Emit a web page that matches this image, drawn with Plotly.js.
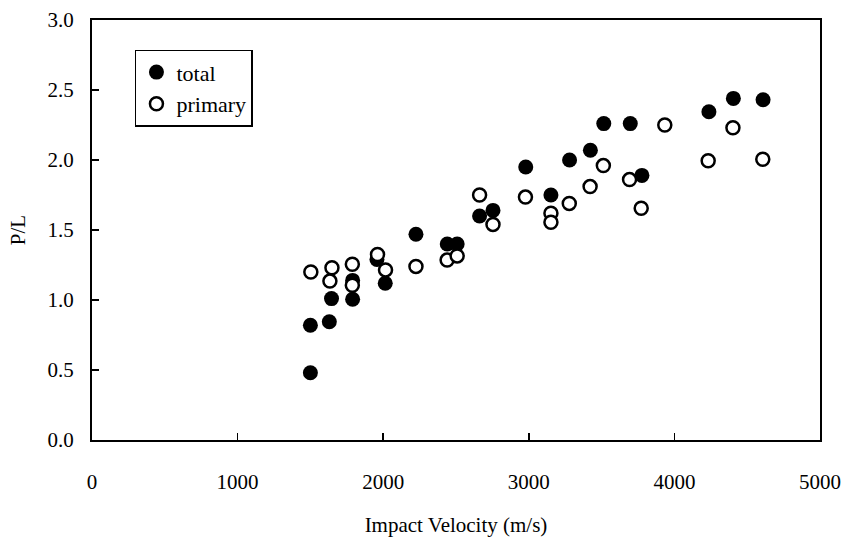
<!DOCTYPE html>
<html>
<head>
<meta charset="utf-8">
<script src="https://cdn.plot.ly/plotly-3.0.1.min.js"></script>
<style>
  html, body { margin: 0; padding: 0; background: #fff; }
  #chart { width: 845px; height: 538px; }
</style>
</head>
<body>
<div id="chart"></div>
<script>
// Impact velocity (m/s) and penetration ratio P/L
const totalVelocity = [1500, 1500, 1630, 1645, 1790, 1790, 1957, 2014, 2225, 2440, 2508, 2662, 2754, 2979, 3152, 3280, 3423, 3515, 3697, 3777, 4237, 4405, 4609];
const totalPL       = [0.48, 0.82, 0.845, 1.01, 1.005, 1.14, 1.29, 1.12, 1.47, 1.40, 1.40, 1.60, 1.64, 1.95, 1.75, 2.00, 2.07, 2.26, 2.26, 1.89, 2.345, 2.44, 2.43];

const primaryVelocity = [1503, 1634, 1648, 1788, 1788, 1961, 2016, 2225, 2439, 2508, 2662, 2754, 2977, 3152, 3152, 3278, 3421, 3512, 3692, 3772, 3934, 4232, 4402, 4607];
const primaryPL       = [1.20, 1.135, 1.23, 1.255, 1.105, 1.325, 1.215, 1.24, 1.285, 1.315, 1.75, 1.54, 1.735, 1.62, 1.555, 1.69, 1.81, 1.96, 1.86, 1.655, 2.25, 1.995, 2.23, 2.005];

const seriesNames = ['total', 'primary'];
const xTickVals = [0, 1000, 2000, 3000, 4000, 5000];
const yTickVals = [0, 0.5, 1.0, 1.5, 2.0, 2.5, 3.0];

const FONT = 'Liberation Serif, Times New Roman, serif';

const traces = [
  {
    x: totalVelocity, y: totalPL, name: seriesNames[0],
    type: 'scatter', mode: 'markers',
    marker: { symbol: 'circle', size: 15, color: '#000', line: { width: 0 } }
  },
  {
    x: primaryVelocity, y: primaryPL, name: seriesNames[1],
    type: 'scatter', mode: 'markers',
    marker: { symbol: 'circle', size: 13, color: '#fff', line: { width: 2.5, color: '#000' } }
  }
];

const layout = {
  width: 845, height: 538,
  margin: { l: 92, r: 25, t: 20, b: 98 },
  paper_bgcolor: '#fff', plot_bgcolor: '#fff',
  font: { family: FONT, color: '#000', size: 21 },
  showlegend: true,
  legend: {
    x: 0.059, y: 0.929, xanchor: 'left', yanchor: 'top',
    bgcolor: '#fff', bordercolor: '#000', borderwidth: 1.5,
    font: { family: FONT, size: 22, color: '#000' },
    itemwidth: 30, tracegroupgap: 0
  },
  xaxis: {
    range: [0, 5000], tickvals: xTickVals, ticktext: xTickVals.map(String),
    ticks: 'inside', ticklen: 7, tickwidth: 1.5, tickcolor: '#000',
    showline: true, linecolor: '#000', linewidth: 2, mirror: true,
    showgrid: false, zeroline: false,
    tickfont: { family: FONT, size: 21 },
    ticklabelstandoff: 22,
    title: { text: 'Impact Velocity (m/s)', font: { family: FONT, size: 21 }, standoff: 24 }
  },
  yaxis: {
    range: [0, 3], tickvals: yTickVals, tickformat: '.1f',
    ticks: 'inside', ticklen: 7, tickwidth: 1.5, tickcolor: '#000',
    showline: true, linecolor: '#000', linewidth: 2, mirror: true,
    showgrid: false, zeroline: false,
    tickfont: { family: FONT, size: 21 },
    ticklabelstandoff: 12,
    title: { text: 'P/L', font: { family: FONT, size: 21 }, standoff: 16 }
  }
};

Plotly.newPlot('chart', traces, layout, { displayModeBar: false, staticPlot: true });
</script>
</body>
</html>
